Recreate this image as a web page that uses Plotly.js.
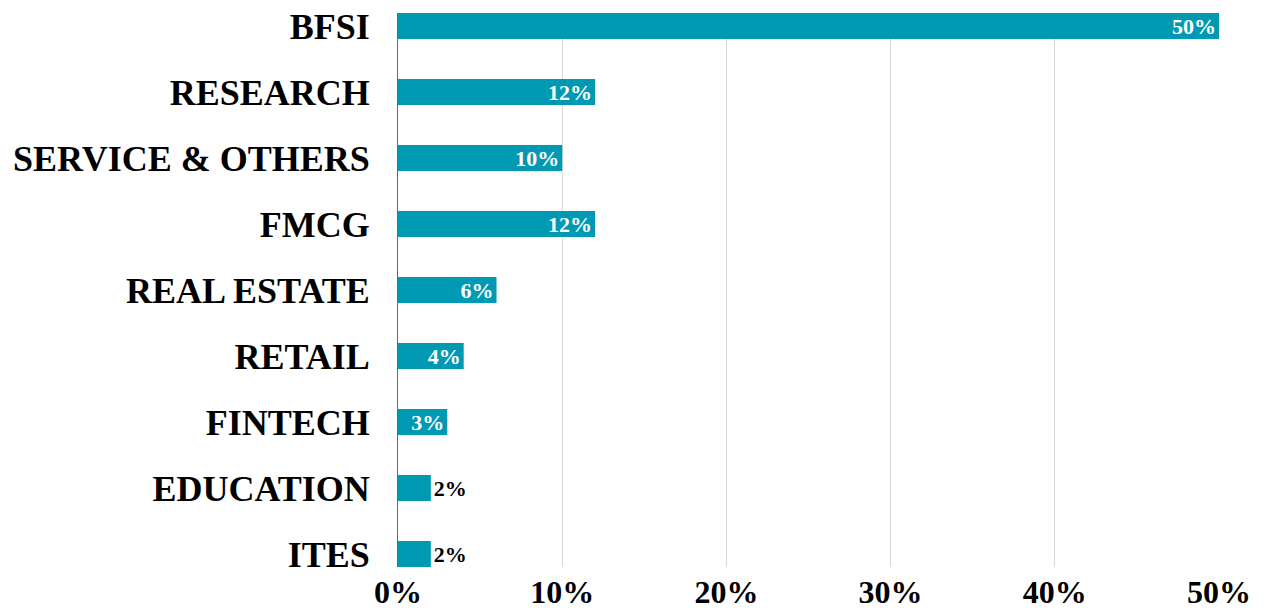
<!DOCTYPE html>
<html>
<head>
<meta charset="utf-8">
<script src="https://cdn.plot.ly/plotly-3.0.1.min.js"></script>
<style>html,body{margin:0;padding:0;background:#fff;}#chart{width:1264px;height:613px;}</style>
</head>
<body>
<div id="chart"></div>
<script>
const categories = ["BFSI", "RESEARCH", "SERVICE & OTHERS", "FMCG", "REAL ESTATE", "RETAIL", "FINTECH", "EDUCATION", "ITES"];
const shares = [50, 12, 10, 12, 6, 4, 3, 2, 2];
const labelPositions = ["inside", "inside", "inside", "inside", "inside", "inside", "inside", "outside", "outside"];
const xTickValues = [0, 10, 20, 30, 40, 50];
const xTickLabels = ["0%", "10%", "20%", "30%", "40%", "50%"];

const serif = "'Liberation Serif', 'Times New Roman', serif";

const trace = {
  type: "bar",
  orientation: "h",
  x: shares,
  y: categories,
  width: 0.394,
  marker: { color: "#0099B4" },
  text: shares.map(v => v + "%"),
  textposition: labelPositions,
  insidetextanchor: "end",
  constraintext: "none",
  cliponaxis: false,
  textfont: { family: serif, size: 22, weight: "bold" },
  insidetextfont: { family: serif, size: 22, color: "#ffffff", weight: "bold" },
  outsidetextfont: { family: serif, size: 22, color: "#000000", weight: "bold" },
  hoverinfo: "x+y"
};

const layout = {
  width: 1264,
  height: 613,
  margin: { l: 398, r: 45, t: 13, b: 46 },
  paper_bgcolor: "#ffffff",
  plot_bgcolor: "#ffffff",
  showlegend: false,
  xaxis: {
    range: [0, 50],
    tickvals: xTickValues,
    ticktext: xTickLabels,
    showgrid: true,
    gridcolor: "#d9d9d9",
    gridwidth: 1,
    zeroline: false,
    showline: false,
    ticks: "",
    tickfont: { family: serif, size: 32, color: "#000000", weight: "bold" },
    ticklabelstandoff: 3,
    fixedrange: true
  },
  yaxis: {
    type: "category",
    range: [8.197, -0.197],
    showgrid: false,
    zeroline: false,
    showline: true,
    linecolor: "#666666",
    linewidth: 1,
    ticks: "",
    ticklabelstandoff: 20,
    tickfont: { family: serif, size: 36, color: "#000000", weight: "bold" },
    fixedrange: true
  }
};

Plotly.newPlot("chart", [trace], layout, { displayModeBar: false, staticPlot: true });
</script>
</body>
</html>
